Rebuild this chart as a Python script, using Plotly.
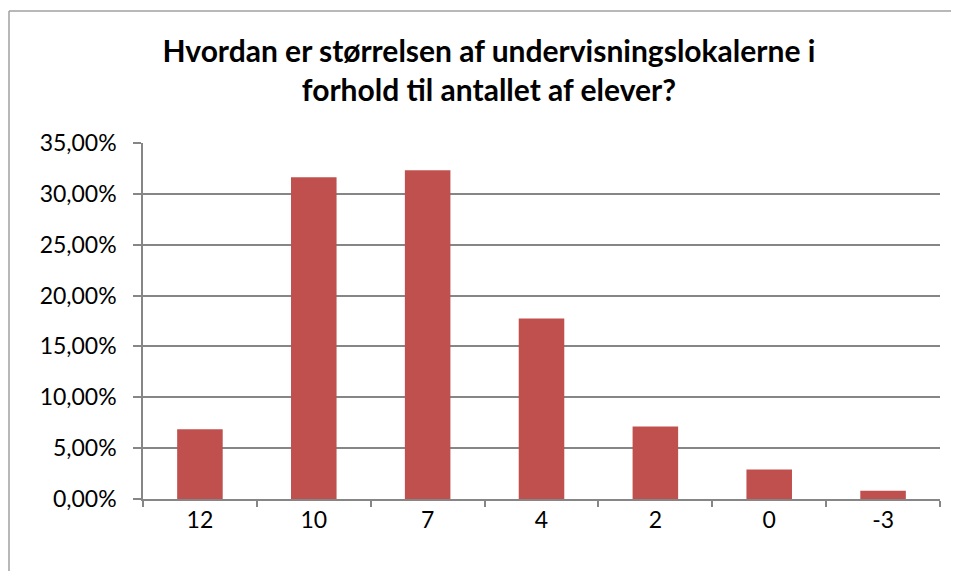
import plotly.graph_objects as go

# karakterer (kategorier) og andel af svar
categories = ["12", "10", "7", "4", "2", "0", "-3"]
shares = [0.0685, 0.3163, 0.3232, 0.1774, 0.0714, 0.0290, 0.0081]
y_ticks = [0, 0.05, 0.10, 0.15, 0.20, 0.25, 0.30, 0.35]

title = "Hvordan er størrelsen af undervisningslokalerne i<br>forhold til antallet af elever?"

bar_color = "#C0504D"
grid_color = "#868686"
frame_color = "#A0A0A0"
font_family = "Lato, 'Open Sans', sans-serif"

# figure sits 8px into the page (body margin), so size it to avoid scrollbars
W, H = 943, 563
L, R, T, B = 135, 11, 135, 72
pw = W - L - R
ph = H - T - B

fig = go.Figure()
fig.add_trace(go.Bar(
    x=categories,
    y=shares,
    marker=dict(color=bar_color, line=dict(width=0)),
    width=0.4,
    hoverinfo="x+y",
))

# outer chart-area frame: only the top and left edges fall inside the window
top_y = (T + ph - 3) / ph
left_x = (1 - L) / pw
fig.add_shape(type="line", xref="paper", yref="paper",
              x0=left_x, x1=(W + 20 - L) / pw, y0=top_y, y1=top_y,
              line=dict(color=frame_color, width=1.5), layer="below")
fig.add_shape(type="line", xref="paper", yref="paper",
              x0=left_x, x1=left_x, y0=top_y, y1=-(B + 20) / ph,
              line=dict(color=frame_color, width=1.5), layer="below")

fig.update_layout(
    width=W, height=H,
    margin=dict(l=L, r=R, t=T, b=B),
    paper_bgcolor="white",
    plot_bgcolor="white",
    separators=",.",
    showlegend=False,
    title=dict(
        text=title,
        x=0.51, xref="container", xanchor="center",
        y=1 - 54 / H, yref="container", yanchor="middle",
        font=dict(family=font_family, size=30, color="black", weight="bold"),
    ),
    font=dict(family=font_family, size=23, color="black"),
)

fig.update_xaxes(
    type="category",
    showline=True, linecolor=grid_color, linewidth=1.5,
    ticks="outside", ticklen=6, tickcolor=grid_color, tickwidth=1.5,
    tickson="boundaries",
    showgrid=False,
    ticklabelstandoff=0,
    tickfont=dict(size=23),
)
fig.update_yaxes(
    range=[0, 0.35],
    tickvals=y_ticks,
    tickformat=".2%",
    showline=True, linecolor=grid_color, linewidth=1.5,
    ticks="outside", ticklen=8, tickcolor=grid_color, tickwidth=1.5,
    showgrid=True, gridcolor=grid_color, gridwidth=1.5,
    zeroline=False,
    ticklabelstandoff=12,
    tickfont=dict(size=23),
)

fig.write_html("out.html", config={"displayModeBar": False})
